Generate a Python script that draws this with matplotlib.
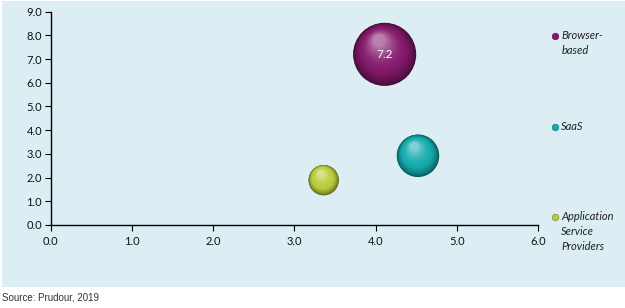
import numpy as np
import matplotlib.pyplot as plt
from matplotlib.patches import Rectangle
from matplotlib.ticker import FormatStrFormatter
import matplotlib.transforms as mtransforms
import matplotlib.colors as mcolors

# data
segments = ["Browser-\nbased", "SaaS", "Application\nService\nProviders"]
x_vals = [4.11, 4.52, 3.36]
y_vals = [7.2, 2.92, 1.89]
bubble_size = [4.3, 1.95, 1.0]
colors = ["#84196b", "#14abad", "#bccc3c"]
legend_y = [0.886, 0.459, 0.0375]

plt.rcParams['font.family'] = ['Lato', 'DejaVu Sans']

fig = plt.figure(figsize=(6.25, 3.08), dpi=100)
fig.patches.append(Rectangle((2 / 625, 21 / 308), 623 / 625, 286 / 308,
                             transform=fig.transFigure, facecolor="#dceef3",
                             edgecolor="none", zorder=-5))
ax = fig.add_axes([0.0808, 0.2695, 0.7805, 0.6925])
ax.set_facecolor("none")


def shade(c, f):
    # f<0 darker, f>0 lighter
    rgb = np.array(mcolors.to_rgb(c))
    if f < 0:
        return tuple(rgb * (1 + f))
    return tuple(rgb + (1 - rgb) * f)


n = 40
for x, y, s, c in zip(x_vals, y_vals, bubble_size, colors):
    size = s * 480
    r = np.sqrt(size) / 2  # radius in points
    for k in range(n + 1):
        t = k / n
        rr = r * (1 - 0.82 * t)
        off = mtransforms.offset_copy(ax.transData, fig=fig,
                                      x=-0.18 * r * t, y=0.45 * r * t, units="points")
        if t < 0.35:
            col = shade(c, -0.5 + 0.5 * (t / 0.35) ** 0.7)
        else:
            col = shade(c, 0.45 * ((t - 0.35) / 0.65) ** 1.6)
        ax.scatter([x], [y], s=(2 * rr) ** 2, color=col, edgecolor="none",
                   zorder=3 + k * 0.01, transform=off)

ax.text(x_vals[0], y_vals[0], "%.1f" % y_vals[0], color="white", fontsize=8.5,
        ha="center", va="center", zorder=30)

ax.set_xlim(0, 6)
ax.set_ylim(0, 9)
ax.set_xticks(np.arange(0, 7, 1))
ax.set_yticks(np.arange(0, 10, 1))
ax.xaxis.set_major_formatter(FormatStrFormatter("%.1f"))
ax.yaxis.set_major_formatter(FormatStrFormatter("%.1f"))
ax.tick_params(labelsize=8, length=4, width=0.8, color="black", labelcolor="#111111", pad=2)
ax.tick_params(axis="x", pad=4)
for sp in ["top", "right"]:
    ax.spines[sp].set_visible(False)
for sp in ["left", "bottom"]:
    ax.spines[sp].set_linewidth(1.0)

for lab, ly, c in zip(segments, legend_y, colors):
    ax.scatter([1.034], [ly], s=22, color=c, edgecolor=shade(c, -0.3), linewidth=0.5,
               transform=ax.transAxes, clip_on=False, zorder=5)
    ax.text(1.047, ly + 0.03, lab, transform=ax.transAxes, fontsize=8, style="italic",
            ha="left", va="top", color="#222222", linespacing=1.45)

fig.text(2 / 625, 1 - 298 / 308, "Source: Prudour, 2019", fontsize=7,
         family="Liberation Sans", color="#333333", va="center", ha="left")

fig.savefig("out.png", dpi=100)
